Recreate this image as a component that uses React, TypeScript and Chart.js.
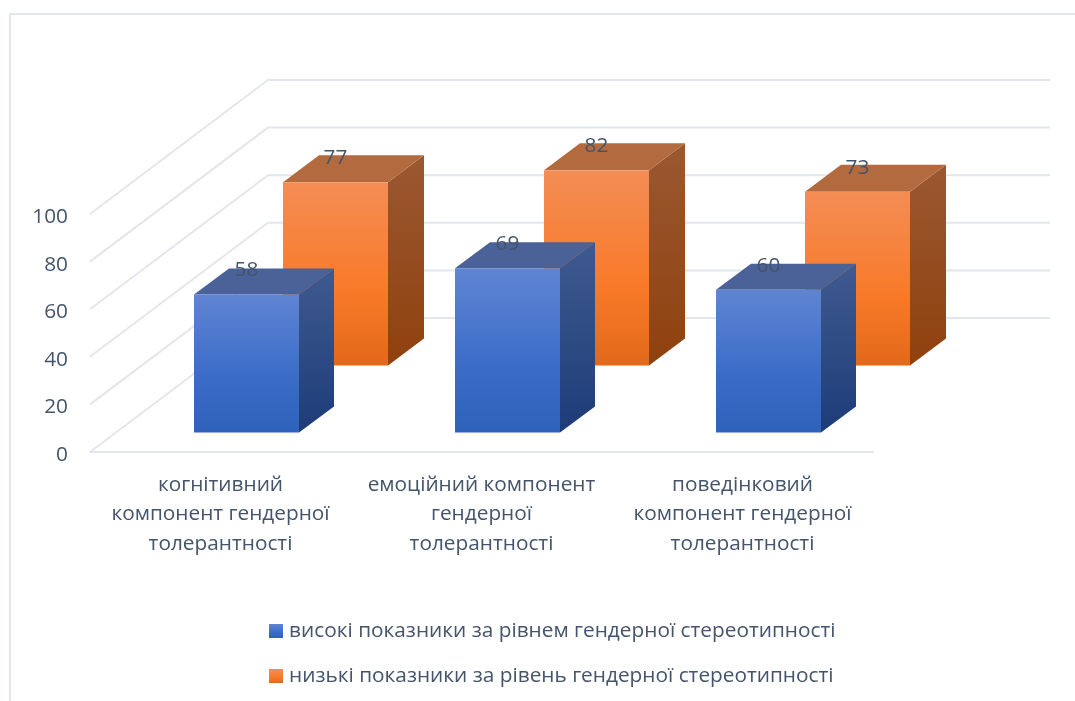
import React, { useEffect, useRef } from "react";
import { Chart, registerables } from "chart.js";

Chart.register(...registerables);

const categories = [
  ["когнітивний", "компонент гендерної", "толерантності"],
  ["емоційний компонент", "гендерної", "толерантності"],
  ["поведінковий", "компонент гендерної", "толерантності"],
];
const highValues = [58, 69, 60];
const lowValues = [77, 82, 73];
const highLabel = "високі показники за рівнем гендерної стереотипності";
const lowLabel = "низькі показники за рівень гендерної стереотипності";
const yTicks = [0, 20, 40, 60, 80, 100];

const TEXT = "#44546A";
const GRID = "#E3E6EC";
const FONT = '"Open Sans", "Noto Sans", sans-serif';
const FONT_SIZE = 20.8;
const WALL = { dx: 178, dy: -134 };

const palette = [
  {
    shift: { x: 26, y: -19.5 }, depth: { x: 35, y: -26 },
    front: ["#5F85D2", "#3A6CC8", "#2F62BA"],
    top: "#4A6298",
    side: ["#3F5A8F", "#1D3C78"],
  },
  {
    shift: { x: 115, y: -86.5 }, depth: { x: 36, y: -27 },
    front: ["#F48D55", "#F87A28", "#E2691A"],
    top: "#B46A3F",
    side: ["#9A5832", "#8F410D"],
  },
];

function swatch(colors: string[]) {
  const c = document.createElement("canvas");
  c.width = 14;
  c.height = 14;
  const g = c.getContext("2d")!;
  const grad = g.createLinearGradient(0, 0, 0, 14);
  grad.addColorStop(0, colors[0]);
  grad.addColorStop(0.6, colors[1]);
  grad.addColorStop(1, colors[2]);
  g.fillStyle = grad;
  g.fillRect(0, 0, 14, 14);
  return c;
}

const wallPlugin = {
  id: "wall",
  beforeDatasetsDraw(chart: any) {
    const { ctx, scales, chartArea } = chart;
    ctx.save();
    ctx.strokeStyle = GRID;
    ctx.lineWidth = 2;
    yTicks.forEach((t) => {
      const y = scales.y.getPixelForValue(t);
      const bx = chartArea.left + WALL.dx;
      const by = y + WALL.dy;
      ctx.beginPath();
      ctx.moveTo(chartArea.left, y);
      ctx.lineTo(bx, by);
      ctx.lineTo(chartArea.right + WALL.dx - 1, by);
      ctx.stroke();
    });
    ctx.restore();
  },
};

const box3dPlugin = {
  id: "box3d",
  afterDatasetsDraw(chart: any) {
    const { ctx } = chart;
    ctx.save();
    [1, 0].forEach((di) => {
      const p = palette[di];
      const meta = chart.getDatasetMeta(di);
      meta.data.forEach((bar: any) => {
        const w = bar.width;
        const l = bar.x - w / 2 + p.shift.x;
        const r = l + w;
        const t = bar.y + p.shift.y;
        const b = bar.base + p.shift.y;
        const dx = p.depth.x;
        const dy = p.depth.y;

        const sg = ctx.createLinearGradient(0, t + dy, 0, b);
        sg.addColorStop(0, p.side[0]);
        sg.addColorStop(1, p.side[1]);
        ctx.fillStyle = sg;
        ctx.beginPath();
        ctx.moveTo(r, t);
        ctx.lineTo(r + dx, t + dy);
        ctx.lineTo(r + dx, b + dy);
        ctx.lineTo(r, b);
        ctx.closePath();
        ctx.fill();

        ctx.fillStyle = p.top;
        ctx.beginPath();
        ctx.moveTo(l, t);
        ctx.lineTo(l + dx, t + dy);
        ctx.lineTo(r + dx, t + dy);
        ctx.lineTo(r, t);
        ctx.closePath();
        ctx.fill();

        const fg = ctx.createLinearGradient(0, t, 0, b);
        fg.addColorStop(0, p.front[0]);
        fg.addColorStop(0.6, p.front[1]);
        fg.addColorStop(1, p.front[2]);
        ctx.fillStyle = fg;
        ctx.fillRect(l, t, w, b - t);
      });
    });
    ctx.fillStyle = TEXT;
    ctx.font = `${FONT_SIZE}px ${FONT}`;
    ctx.textAlign = "center";
    ctx.textBaseline = "middle";
    chart.data.datasets.forEach((ds: any, di: number) => {
      const p = palette[di];
      chart.getDatasetMeta(di).data.forEach((bar: any, i: number) => {
        ctx.fillText(String(ds.data[i]), bar.x + p.shift.x, bar.y + p.shift.y - 24);
      });
    });
    ctx.restore();
  },
};

const legendPlacePlugin = {
  id: "legendPlace",
  afterLayout(chart: any) {
    const lg = chart.legend;
    lg.left = 249.5;
    lg.right = lg.left + lg.width;
    lg.top = 596.5;
    lg.bottom = lg.top + lg.height;
  },
};

export default function App() {
  const ref = useRef<HTMLCanvasElement>(null);
  useEffect(() => {
    const swatches = palette.map((p) => swatch(p.front));
    const chart = new Chart(ref.current!, {
      type: "bar",
      data: {
        labels: categories,
        datasets: [
          { label: highLabel, data: highValues, backgroundColor: "transparent", barThickness: 105, grouped: false },
          { label: lowLabel, data: lowValues, backgroundColor: "transparent", barThickness: 105, grouped: false },
        ] as any,
      },
      options: {
        responsive: false,
        animation: false,
        devicePixelRatio: 1,
        layout: { padding: { top: 214, right: 202, left: 0, bottom: 0 } },
        scales: {
          x: {
            grid: { display: false },
            border: { display: true, color: GRID, width: 2 },
            ticks: {
              color: TEXT,
              padding: 10,
              maxRotation: 0,
              autoSkip: false,
              font: { family: FONT, size: FONT_SIZE, lineHeight: 1.42 },
            },
            afterFit(scale: any) {
              scale.height = 249 - (scale.chart.legend?.height ?? 0);
            },
          },
          y: {
            min: 0,
            max: 100,
            grid: { display: false },
            border: { display: false },
            ticks: {
              stepSize: 20,
              color: TEXT,
              padding: 14,
              labelOffset: 3,
              font: { family: FONT, size: FONT_SIZE },
            },
            afterFit(scale: any) {
              scale.width = 90;
            },
          },
        },
        plugins: {
          tooltip: { enabled: false },
          legend: {
            position: "bottom",
            align: "start",
            labels: {
              color: TEXT,
              padding: 24.2,
              usePointStyle: true,
              pointStyleWidth: 5,
              font: { family: FONT, size: FONT_SIZE },
              generateLabels(c: any) {
                return Chart.defaults.plugins.legend.labels
                  .generateLabels(c)
                  .map((it: any, i: number) => ({ ...it, pointStyle: swatches[i], fontColor: TEXT }));
              },
            },
          },
        },
      } as any,
      plugins: [wallPlugin, box3dPlugin, legendPlacePlugin],
    });
    return () => chart.destroy();
  }, []);
  return (
    <div style={{ position: "fixed", left: 0, top: 0, width: 1075, height: 701, background: "#fff", overflow: "hidden" }}>
      <canvas ref={ref} width={1075} height={701} style={{ display: "block", width: 1075, height: 701 }} />
      <div
        style={{
          position: "absolute",
          left: 9,
          top: 13,
          right: -4,
          bottom: -4,
          borderLeft: `2px solid ${GRID}`,
          borderTop: `2px solid ${GRID}`,
        }}
      />
    </div>
  );
}
